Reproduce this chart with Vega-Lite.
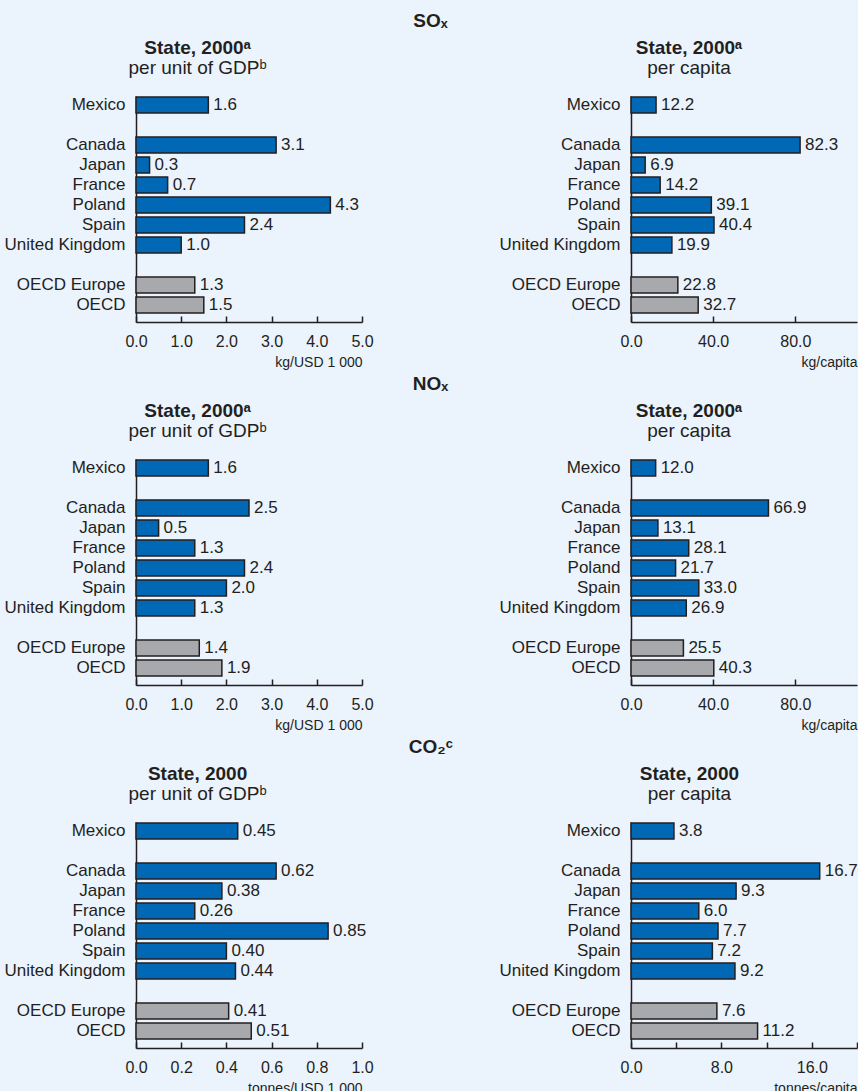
{
  "$schema": "https://vega.github.io/schema/vega-lite/v6.json",
  "padding": {"left": 4, "top": 11, "right": 0, "bottom": 0},
  "background": "#ebf3fd",
  "spacing": 5,
  "config": {
    "font": "Liberation Sans",
    "view": {"stroke": null},
    "title": {"fontSize": 19, "fontWeight": "bold", "color": "#231f20", "subtitleFontSize": 19, "subtitleColor": "#231f20", "subtitlePadding": 1, "anchor": "middle"},
    "axis": {"domainColor": "#231f20", "domainWidth": 1.5, "tickColor": "#231f20", "tickWidth": 1.5, "labelColor": "#231f20", "titleColor": "#231f20", "grid": false},
    "axisY": {"ticks": false, "labelPadding": 11, "labelFontSize": 17, "title": null},
    "axisX": {"tickSize": -6, "labelFontSize": 16, "labelPadding": 17, "titleFontSize": 14, "titleFontWeight": "normal", "titleAnchor": "end", "titlePadding": 6, "labelFlush": false}
  },
  "vconcat": [
    {
      "title": {"text": "SOₓ", "fontSize": 19, "offset": 8},
      "spacing": 125,
      "hconcat": [
        {
          "width": 226, "height": 226,
          "title": {"text": "State, 2000ᵃ", "subtitle": "per unit of GDPᵇ", "frame": "bounds", "dx": 9, "offset": 18},
          "data": {"values": [
            {"country": "Mexico", "value": 1.6, "type": "country"},
            {"country": "Canada", "value": 3.1, "type": "country"},
            {"country": "Japan", "value": 0.3, "type": "country"},
            {"country": "France", "value": 0.7, "type": "country"},
            {"country": "Poland", "value": 4.3, "type": "country"},
            {"country": "Spain", "value": 2.4, "type": "country"},
            {"country": "United Kingdom", "value": 1.0, "type": "country"},
            {"country": "OECD Europe", "value": 1.3, "type": "aggregate"},
            {"country": "OECD", "value": 1.5, "type": "aggregate"}
          ]},
          "encoding": {
            "y": {"field": "country", "type": "nominal", "scale": {"domain": ["Mexico", " ", "Canada", "Japan", "France", "Poland", "Spain", "United Kingdom", "  ", "OECD Europe", "OECD"], "paddingInner": 0.2, "paddingOuter": 0.25, "align": 0.1}},
            "x": {"field": "value", "type": "quantitative", "scale": {"domain": [0, 5], "nice": false}, "axis": {"title": "kg/USD 1 000", "values": [0, 1, 2, 3, 4, 5], "format": ".1f"}}
          },
          "layer": [
            {"mark": {"type": "bar", "stroke": "#231f20", "strokeWidth": 1.5}, "encoding": {"color": {"field": "type", "type": "nominal", "scale": {"domain": ["country", "aggregate"], "range": ["#0068b4", "#a8a9ac"]}, "legend": null}}},
            {"mark": {"type": "text", "align": "left", "baseline": "middle", "dx": 5, "fontSize": 17, "color": "#231f20"}, "encoding": {"text": {"field": "value", "type": "quantitative", "format": ".1f"}}}
          ]
        },
        {
          "width": 226, "height": 226,
          "title": {"text": "State, 2000ᵃ", "subtitle": "per capita", "frame": "bounds", "dx": 11, "offset": 18},
          "data": {"values": [
            {"country": "Mexico", "value": 12.2, "type": "country"},
            {"country": "Canada", "value": 82.3, "type": "country"},
            {"country": "Japan", "value": 6.9, "type": "country"},
            {"country": "France", "value": 14.2, "type": "country"},
            {"country": "Poland", "value": 39.1, "type": "country"},
            {"country": "Spain", "value": 40.4, "type": "country"},
            {"country": "United Kingdom", "value": 19.9, "type": "country"},
            {"country": "OECD Europe", "value": 22.8, "type": "aggregate"},
            {"country": "OECD", "value": 32.7, "type": "aggregate"}
          ]},
          "encoding": {
            "y": {"field": "country", "type": "nominal", "scale": {"domain": ["Mexico", " ", "Canada", "Japan", "France", "Poland", "Spain", "United Kingdom", "  ", "OECD Europe", "OECD"], "paddingInner": 0.2, "paddingOuter": 0.25, "align": 0.1}},
            "x": {"field": "value", "type": "quantitative", "scale": {"domain": [0, 110], "nice": false}, "axis": {"title": "kg/capita", "values": [0, 40, 80], "format": ".1f"}}
          },
          "layer": [
            {"mark": {"type": "bar", "stroke": "#231f20", "strokeWidth": 1.5}, "encoding": {"color": {"field": "type", "type": "nominal", "scale": {"domain": ["country", "aggregate"], "range": ["#0068b4", "#a8a9ac"]}, "legend": null}}},
            {"mark": {"type": "text", "align": "left", "baseline": "middle", "dx": 5, "fontSize": 17, "color": "#231f20"}, "encoding": {"text": {"field": "value", "type": "quantitative", "format": ".1f"}}}
          ]
        }
      ]
    },
    {
      "title": {"text": "NOₓ", "fontSize": 19, "offset": 8},
      "spacing": 125,
      "hconcat": [
        {
          "width": 226, "height": 226,
          "title": {"text": "State, 2000ᵃ", "subtitle": "per unit of GDPᵇ", "frame": "bounds", "dx": 9, "offset": 18},
          "data": {"values": [
            {"country": "Mexico", "value": 1.6, "type": "country"},
            {"country": "Canada", "value": 2.5, "type": "country"},
            {"country": "Japan", "value": 0.5, "type": "country"},
            {"country": "France", "value": 1.3, "type": "country"},
            {"country": "Poland", "value": 2.4, "type": "country"},
            {"country": "Spain", "value": 2.0, "type": "country"},
            {"country": "United Kingdom", "value": 1.3, "type": "country"},
            {"country": "OECD Europe", "value": 1.4, "type": "aggregate"},
            {"country": "OECD", "value": 1.9, "type": "aggregate"}
          ]},
          "encoding": {
            "y": {"field": "country", "type": "nominal", "scale": {"domain": ["Mexico", " ", "Canada", "Japan", "France", "Poland", "Spain", "United Kingdom", "  ", "OECD Europe", "OECD"], "paddingInner": 0.2, "paddingOuter": 0.25, "align": 0.1}},
            "x": {"field": "value", "type": "quantitative", "scale": {"domain": [0, 5], "nice": false}, "axis": {"title": "kg/USD 1 000", "values": [0, 1, 2, 3, 4, 5], "format": ".1f"}}
          },
          "layer": [
            {"mark": {"type": "bar", "stroke": "#231f20", "strokeWidth": 1.5}, "encoding": {"color": {"field": "type", "type": "nominal", "scale": {"domain": ["country", "aggregate"], "range": ["#0068b4", "#a8a9ac"]}, "legend": null}}},
            {"mark": {"type": "text", "align": "left", "baseline": "middle", "dx": 5, "fontSize": 17, "color": "#231f20"}, "encoding": {"text": {"field": "value", "type": "quantitative", "format": ".1f"}}}
          ]
        },
        {
          "width": 226, "height": 226,
          "title": {"text": "State, 2000ᵃ", "subtitle": "per capita", "frame": "bounds", "dx": 11, "offset": 18},
          "data": {"values": [
            {"country": "Mexico", "value": 12.0, "type": "country"},
            {"country": "Canada", "value": 66.9, "type": "country"},
            {"country": "Japan", "value": 13.1, "type": "country"},
            {"country": "France", "value": 28.1, "type": "country"},
            {"country": "Poland", "value": 21.7, "type": "country"},
            {"country": "Spain", "value": 33.0, "type": "country"},
            {"country": "United Kingdom", "value": 26.9, "type": "country"},
            {"country": "OECD Europe", "value": 25.5, "type": "aggregate"},
            {"country": "OECD", "value": 40.3, "type": "aggregate"}
          ]},
          "encoding": {
            "y": {"field": "country", "type": "nominal", "scale": {"domain": ["Mexico", " ", "Canada", "Japan", "France", "Poland", "Spain", "United Kingdom", "  ", "OECD Europe", "OECD"], "paddingInner": 0.2, "paddingOuter": 0.25, "align": 0.1}},
            "x": {"field": "value", "type": "quantitative", "scale": {"domain": [0, 110], "nice": false}, "axis": {"title": "kg/capita", "values": [0, 40, 80], "format": ".1f"}}
          },
          "layer": [
            {"mark": {"type": "bar", "stroke": "#231f20", "strokeWidth": 1.5}, "encoding": {"color": {"field": "type", "type": "nominal", "scale": {"domain": ["country", "aggregate"], "range": ["#0068b4", "#a8a9ac"]}, "legend": null}}},
            {"mark": {"type": "text", "align": "left", "baseline": "middle", "dx": 5, "fontSize": 17, "color": "#231f20"}, "encoding": {"text": {"field": "value", "type": "quantitative", "format": ".1f"}}}
          ]
        }
      ]
    },
    {
      "title": {"text": "CO₂ᶜ", "fontSize": 19, "offset": 8},
      "spacing": 125,
      "hconcat": [
        {
          "width": 226, "height": 226,
          "title": {"text": "State, 2000", "subtitle": "per unit of GDPᵇ", "frame": "bounds", "dx": 9, "offset": 18},
          "data": {"values": [
            {"country": "Mexico", "value": 0.45, "type": "country"},
            {"country": "Canada", "value": 0.62, "type": "country"},
            {"country": "Japan", "value": 0.38, "type": "country"},
            {"country": "France", "value": 0.26, "type": "country"},
            {"country": "Poland", "value": 0.85, "type": "country"},
            {"country": "Spain", "value": 0.40, "type": "country"},
            {"country": "United Kingdom", "value": 0.44, "type": "country"},
            {"country": "OECD Europe", "value": 0.41, "type": "aggregate"},
            {"country": "OECD", "value": 0.51, "type": "aggregate"}
          ]},
          "encoding": {
            "y": {"field": "country", "type": "nominal", "scale": {"domain": ["Mexico", " ", "Canada", "Japan", "France", "Poland", "Spain", "United Kingdom", "  ", "OECD Europe", "OECD"], "paddingInner": 0.2, "paddingOuter": 0.25, "align": 0.1}},
            "x": {"field": "value", "type": "quantitative", "scale": {"domain": [0, 1], "nice": false}, "axis": {"title": "tonnes/USD 1 000", "values": [0, 0.2, 0.4, 0.6, 0.8, 1.0], "format": ".1f"}}
          },
          "layer": [
            {"mark": {"type": "bar", "stroke": "#231f20", "strokeWidth": 1.5}, "encoding": {"color": {"field": "type", "type": "nominal", "scale": {"domain": ["country", "aggregate"], "range": ["#0068b4", "#a8a9ac"]}, "legend": null}}},
            {"mark": {"type": "text", "align": "left", "baseline": "middle", "dx": 5, "fontSize": 17, "color": "#231f20"}, "encoding": {"text": {"field": "value", "type": "quantitative", "format": ".2f"}}}
          ]
        },
        {
          "width": 226, "height": 226,
          "title": {"text": "State, 2000", "subtitle": "per capita", "frame": "bounds", "dx": 11, "offset": 18},
          "data": {"values": [
            {"country": "Mexico", "value": 3.8, "type": "country"},
            {"country": "Canada", "value": 16.7, "type": "country"},
            {"country": "Japan", "value": 9.3, "type": "country"},
            {"country": "France", "value": 6.0, "type": "country"},
            {"country": "Poland", "value": 7.7, "type": "country"},
            {"country": "Spain", "value": 7.2, "type": "country"},
            {"country": "United Kingdom", "value": 9.2, "type": "country"},
            {"country": "OECD Europe", "value": 7.6, "type": "aggregate"},
            {"country": "OECD", "value": 11.2, "type": "aggregate"}
          ]},
          "encoding": {
            "y": {"field": "country", "type": "nominal", "scale": {"domain": ["Mexico", " ", "Canada", "Japan", "France", "Poland", "Spain", "United Kingdom", "  ", "OECD Europe", "OECD"], "paddingInner": 0.2, "paddingOuter": 0.25, "align": 0.1}},
            "x": {"field": "value", "type": "quantitative", "scale": {"domain": [0, 20], "nice": false}, "axis": {"title": "tonnes/capita", "values": [0, 4, 8, 12, 16, 20], "labelExpr": "datum.value % 8 === 0 ? format(datum.value, '.1f') : ''"}}
          },
          "layer": [
            {"mark": {"type": "bar", "stroke": "#231f20", "strokeWidth": 1.5}, "encoding": {"color": {"field": "type", "type": "nominal", "scale": {"domain": ["country", "aggregate"], "range": ["#0068b4", "#a8a9ac"]}, "legend": null}}},
            {"mark": {"type": "text", "align": "left", "baseline": "middle", "dx": 5, "fontSize": 17, "color": "#231f20"}, "encoding": {"text": {"field": "value", "type": "quantitative", "format": ".1f"}}}
          ]
        }
      ]
    }
  ]
}
